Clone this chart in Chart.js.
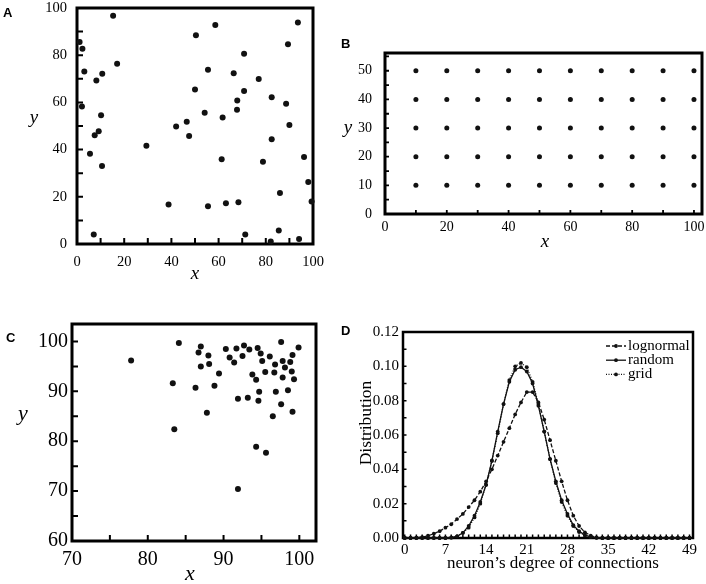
<!DOCTYPE html>
<html><head><meta charset="utf-8">
<script src="https://cdn.jsdelivr.net/npm/chart.js@4.4.1/dist/chart.umd.min.js"></script>
<style>
html,body{margin:0;padding:0;background:#fff;}
#wrap{position:relative;width:706px;height:584px;overflow:hidden;background:#fff;}
canvas{position:absolute;left:0;top:0;}
</style></head><body>
<div id="wrap">
<canvas id="cA" width="706" height="584"></canvas>
<canvas id="cB" width="706" height="584"></canvas>
<canvas id="cC" width="706" height="584"></canvas>
<canvas id="cD" width="706" height="584"></canvas>
</div>
<script>
// ---------- DATA ----------
// Panel A: random positions
const aX = [1.1,2.3,3.1,2.1,15.3,17.0,8.2,10.7,10.2,7.5,9.2,5.5,10.6,7.1,29.4,38.8,42.0,46.5,47.5,50.4,50.0,54.1,55.5,58.6,55.5,61.7,61.3,63.1,66.4,67.8,67.9,70.8,70.8,68.4,71.3,77.0,78.8,82.5,82.5,82.1,85.5,86.0,88.6,89.4,90.0,93.6,94.1,96.2,98.0,99.4];
const aY = [85.6,82.7,73.1,58.3,96.7,76.4,69.3,72.1,54.6,46.1,47.8,38.2,33.0,4.0,41.6,16.7,49.8,51.8,45.8,88.5,65.5,55.6,73.8,92.8,16.0,53.6,35.9,17.3,72.4,56.9,60.8,80.6,64.8,17.7,4.0,69.9,34.8,62.2,44.4,1.1,5.7,21.6,59.4,84.6,50.4,93.9,2.1,36.9,26.3,18.0];
const aTicks = [0,20,40,60,80,100];

// Panel B: grid positions
const bX = [10,20,30,40,50,60,70,80,90,100];
const bY = [10,20,30,40,50];
const bXTicks = [0,20,40,60,80,100];
const bYTicks = [0,10,20,30,40,50];

// Panel C: clustered positions
const cX = [77.8,83.3,83.5,84.1,86.3,86.7,87.0,87.0,87.8,88.0,88.1,88.8,89.4,90.3,90.8,91.4,91.7,91.9,91.9,92.5,92.7,93.2,93.4,93.8,94.3,94.3,94.5,94.6,94.7,94.9,95.1,95.5,95.6,96.1,96.5,96.7,96.8,96.9,97.6,97.6,97.8,97.8,98.1,98.5,98.8,99.0,99.1,99.1,99.3,99.9];
const cY = [96.2,91.6,82.4,99.7,90.7,97.8,99.0,95.0,85.7,97.2,95.5,91.1,93.6,98.5,96.8,95.8,98.6,88.5,70.4,97.1,99.2,88.7,98.4,93.4,78.9,92.3,98.7,88.1,89.9,97.6,96.1,93.9,77.7,97.0,85.0,93.8,95.4,89.9,99.9,87.4,96.1,92.8,94.8,90.2,95.9,94.0,97.3,85.9,92.4,98.8];
const cXTicks = [70,80,90,100];
const cYTicks = [60,70,80,90,100];

// Panel D: degree distributions
const degrees = [0,1,2,3,4,5,6,7,8,9,10,11,12,13,14,15,16,17,18,19,20,21,22,23,24,25,26,27,28,29,30,31,32,33,34,35,36,37,38,39,40,41,42,43,44,45,46,47,48,49];
const lognormal = [0,0,0.0002,0.0005,0.0013,0.0025,0.004,0.006,0.008,0.011,0.014,0.018,0.022,0.027,0.033,0.040,0.048,0.056,0.064,0.072,0.079,0.085,0.085,0.079,0.069,0.057,0.045,0.033,0.022,0.013,0.007,0.0033,0.0014,0.0004,0,0,0,0,0,0,0,0,0,0,0,0,0,0,0,0];
const random = [0,0,0,0,0,0,0,0,0.0003,0.001,0.003,0.007,0.013,0.021,0.031,0.045,0.062,0.078,0.091,0.098,0.0995,0.097,0.090,0.077,0.062,0.046,0.033,0.022,0.014,0.0075,0.004,0.0017,0.0006,0.0002,0,0,0,0,0,0,0,0,0,0,0,0,0,0,0,0];
const grid = [0,0,0,0,0,0,0,0,0.0002,0.001,0.003,0.006,0.012,0.020,0.031,0.045,0.061,0.078,0.092,0.100,0.102,0.0995,0.091,0.078,0.062,0.046,0.032,0.021,0.013,0.007,0.0035,0.0015,0.0005,0.0001,0,0,0,0,0,0,0,0,0,0,0,0,0,0,0,0];
const dXTicks = [0,7,14,21,28,35,42,49];
const dYTicks = [0,0.02,0.04,0.06,0.08,0.10,0.12];

// ---------- HELPERS ----------
const SERIF = '"Liberation Serif", "Times New Roman", serif';
const SANS = '"Liberation Sans", Arial, sans-serif';
Chart.defaults.animation = false;
Chart.defaults.color = '#000';

function deco(o) {
  return {
    id: 'deco',
    beforeDatasetsDraw(chart) {
      const {ctx, chartArea: a, scales: {x, y}} = chart;
      ctx.save();
      ctx.strokeStyle = '#000';
      ctx.lineWidth = o.tickW;
      ctx.beginPath();
      const nx = Math.round((o.xm[1] - o.xm[0]) / o.xm[2]);
      for (let i = 0; i <= nx; i++) {
        const px = x.getPixelForValue(o.xm[0] + i * o.xm[2]);
        ctx.moveTo(px, a.bottom); ctx.lineTo(px, a.bottom - o.tl);
      }
      const ny = Math.round((o.ym[1] - o.ym[0]) / o.ym[2]);
      for (let i = 0; i <= ny; i++) {
        const py = y.getPixelForValue(o.ym[0] + i * o.ym[2]);
        ctx.moveTo(a.left, py); ctx.lineTo(a.left + o.tl, py);
      }
      ctx.stroke();
      ctx.lineWidth = o.fw;
      ctx.strokeRect(a.left, a.top, a.right - a.left, a.bottom - a.top);
      ctx.restore();
    },
    afterDraw(chart) {
      const ctx = chart.ctx;
      ctx.save();
      ctx.fillStyle = '#000';
      ctx.textBaseline = 'alphabetic';
      (o.texts || []).forEach(t => {
        ctx.save();
        ctx.font = t.font;
        ctx.textAlign = t.align || 'center';
        ctx.translate(t.x, t.y);
        if (t.rot) ctx.rotate(t.rot);
        ctx.fillText(t.t, 0, 0);
        ctx.restore();
      });
      if (o.legend) {
        const L = o.legend;
        ctx.font = L.font;
        ctx.textAlign = 'left';
        chart.data.datasets.forEach((ds, i) => {
          const cy = L.y + i * L.dy;
          ctx.save();
          ctx.strokeStyle = ds.borderColor;
          ctx.lineWidth = ds.borderWidth;
          ctx.setLineDash(ds.borderDash || []);
          ctx.beginPath();
          ctx.moveTo(L.x0, cy); ctx.lineTo(L.x1, cy);
          ctx.stroke();
          ctx.setLineDash([]);
          ctx.beginPath();
          ctx.arc((L.x0 + L.x1) / 2, cy, ds.pointRadius, 0, Math.PI * 2);
          ctx.fillStyle = ds.pointBackgroundColor;
          ctx.fill();
          ctx.restore();
          ctx.fillText(ds.label, L.tx, cy + 4);
        });
      }
      ctx.restore();
    }
  };
}

function makeChart(id, p) {
  const W = 706, H = 584, yw = 50, xh = 30;
  const fixY = s => { s.width = yw; s.paddingTop = 0; s.paddingBottom = 0; };
  const fixX = s => { s.height = xh; s.paddingLeft = 0; s.paddingRight = 0; };
  return new Chart(document.getElementById(id), {
    type: p.type,
    data: {datasets: p.datasets},
    options: {
      responsive: false,
      devicePixelRatio: 1,
      layout: {padding: {left: p.area.l - yw, top: p.area.t, right: W - p.area.r, bottom: H - p.area.b - xh}},
      plugins: {legend: {display: false}, tooltip: {enabled: false}},
      scales: {
        x: {
          type: 'linear', position: 'bottom', min: p.x.min, max: p.x.max,
          grid: {display: false, drawTicks: false}, border: {display: false},
          afterBuildTicks: s => { s.ticks = p.x.ticks.map(v => ({value: v})); },
          afterFit: fixX,
          ticks: {font: {family: SERIF, size: p.font}, color: '#000', padding: p.xpad, maxRotation: 0, autoSkip: false,
                  callback: p.x.fmt || (v => v)}
        },
        y: {
          type: 'linear', position: 'left', min: p.y.min, max: p.y.max,
          grid: {display: false, drawTicks: false}, border: {display: false},
          afterBuildTicks: s => { s.ticks = p.y.ticks.map(v => ({value: v})); },
          afterFit: fixY,
          ticks: {font: {family: SERIF, size: p.font}, color: '#000', padding: p.ypad, autoSkip: false,
                  callback: p.y.fmt || (v => v)}
        }
      }
    },
    plugins: [deco(p.deco)]
  });
}

const dot = (r) => ({pointRadius: r, pointBackgroundColor: '#111', pointBorderWidth: 0, backgroundColor: '#111', borderWidth: 0, clip: false});

// ---------- PANEL A ----------
makeChart('cA', {
  type: 'scatter',
  area: {l: 77, t: 8, r: 313, b: 244},
  font: 14.5, xpad: 9, ypad: 10,
  x: {min: 0, max: 100, ticks: aTicks},
  y: {min: 0, max: 100, ticks: aTicks},
  datasets: [Object.assign({label: 'A', data: aX.map((v, i) => ({x: v, y: aY[i]}))}, dot(3))],
  deco: {xm: [0, 100, 10], ym: [0, 100, 10], tl: 6, tickW: 2, fw: 3,
    texts: [
      {t: 'A', x: 3, y: 17, font: 'bold 13px ' + SANS, align: 'left'},
      {t: 'y', x: 34, y: 123, font: 'italic 19px ' + SERIF},
      {t: 'x', x: 195, y: 279, font: 'italic 19px ' + SERIF}
    ]}
});

// ---------- PANEL B ----------
makeChart('cB', {
  type: 'scatter',
  area: {l: 385, t: 53, r: 702, b: 214},
  font: 14, xpad: 4.5, ypad: 13,
  x: {min: 0, max: 102.6, ticks: bXTicks},
  y: {min: 0, max: 56.2, ticks: bYTicks},
  datasets: [Object.assign({label: 'B', data: bY.flatMap(yv => bX.map(xv => ({x: xv, y: yv})))}, dot(2.5))],
  deco: {xm: [0, 100, 10], ym: [0, 55, 5], tl: 4, tickW: 1.8, fw: 3,
    texts: [
      {t: 'B', x: 341, y: 48, font: 'bold 13px ' + SANS, align: 'left'},
      {t: 'y', x: 348, y: 133, font: 'italic 19px ' + SERIF},
      {t: 'x', x: 545, y: 247, font: 'italic 19px ' + SERIF}
    ]}
});

// ---------- PANEL C ----------
makeChart('cC', {
  type: 'scatter',
  area: {l: 72, t: 324, r: 316, b: 541},
  font: 20, xpad: 7, ypad: 4,
  x: {min: 70, max: 102.2, ticks: cXTicks},
  y: {min: 60, max: 103.5, ticks: cYTicks},
  datasets: [Object.assign({label: 'C', data: cX.map((v, i) => ({x: v, y: cY[i]}))}, dot(3))],
  deco: {xm: [70, 100, 5], ym: [60, 100, 5], tl: 6, tickW: 2, fw: 3,
    texts: [
      {t: 'C', x: 6, y: 342, font: 'bold 13px ' + SANS, align: 'left'},
      {t: 'y', x: 23, y: 420, font: 'italic 22px ' + SERIF},
      {t: 'x', x: 190, y: 580, font: 'italic 22px ' + SERIF}
    ]}
});

// ---------- PANEL D ----------
const line = (label, vals, dash) => ({
  label, data: degrees.map((d, i) => ({x: d, y: vals[i]})),
  borderColor: '#111', borderWidth: 1.3, borderDash: dash,
  pointRadius: 1.9, pointBackgroundColor: '#111', pointBorderWidth: 0,
  fill: false, tension: 0, clip: false
});
makeChart('cD', {
  type: 'line',
  area: {l: 403, t: 332, r: 693, b: 538},
  font: 15, xpad: 3, ypad: 4,
  x: {min: -0.3, max: 49.6, ticks: dXTicks},
  y: {min: 0, max: 0.12, ticks: dYTicks, fmt: v => v.toFixed(2)},
  datasets: [
    line('lognormal', lognormal, [4, 2]),
    line('random', random, []),
    line('grid', grid, [1, 1.5])
  ],
  deco: {xm: [0, 49, 1], ym: [0, 0.12, 0.01], tl: 3.5, tickW: 1.5, fw: 2.5,
    texts: [
      {t: 'D', x: 341, y: 335, font: 'bold 13px ' + SANS, align: 'left'},
      {t: 'Distribution', x: 370.5, y: 423, font: '17.5px ' + SERIF, rot: -Math.PI / 2},
      {t: 'neuron\u2019s degree of connections', x: 553, y: 568, font: '17px ' + SERIF}
    ],
    legend: {x0: 606, x1: 626, tx: 628, y: 346, dy: 14.2, font: '15px ' + SERIF}
  }
});
</script>
</body></html>
